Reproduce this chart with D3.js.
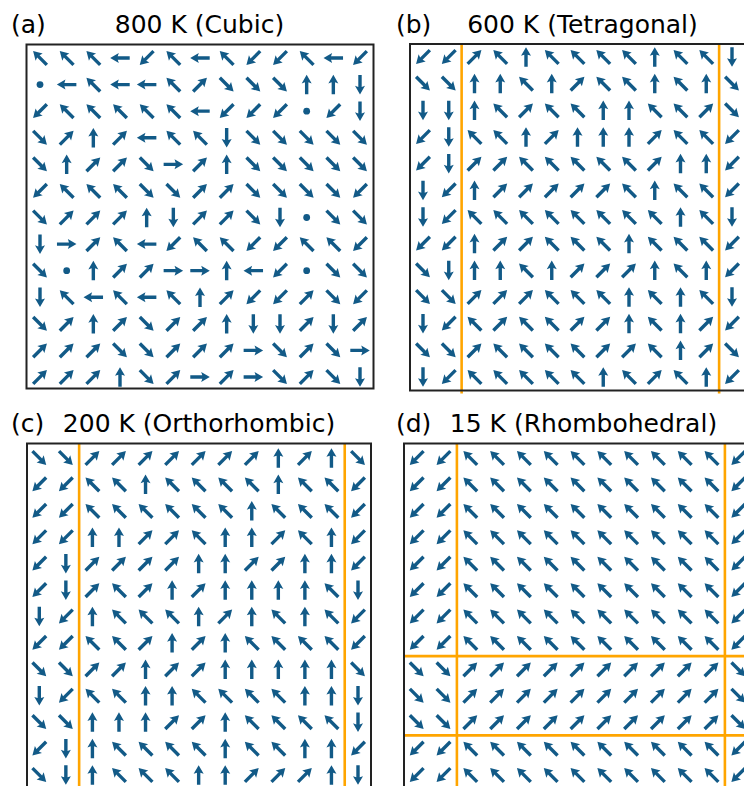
<!DOCTYPE html>
<html><head><meta charset="utf-8">
<script src="https://cdn.jsdelivr.net/npm/d3@7"></script>
<style>html,body{margin:0;padding:0;background:#fff}</style>
</head><body>
<svg id="chart" width="744" height="786"></svg>
<script>
// ---------------- data ----------------
const gridIndex = d3.range(13);
const panelLabels = ["(a)", "(b)", "(c)", "(d)"];
const panelTitles = ["800 K (Cubic)", "600 K (Tetragonal)", "200 K (Orthorhombic)", "15 K (Rhombohedral)"];

// polarization direction per cell (rows top->bottom), "0" = zero / dot
const dirA = [
  "NW NW NW W SW NW W NW SW SW NW W SW",
  "0 W NW W W NW NE SE SE SE N N S",
  "SW NW NW NW NW NW W SW SW SW 0 SW S",
  "SE NE N NE W NW NW S SE SE SE SE SE",
  "SE N NE NE SE E NE N SE SE SE SE SE",
  "SW NW NW NW SE SE NE NE SE SE SE SE SW",
  "SE NE NE NE N S NE NE SE S 0 SE SE",
  "S E NE NW W SW NW NW SW SW NW NW SW",
  "SE 0 N NE NE E E N W SW 0 SE SE",
  "S NW W NW W NW N NE SW SW NE SE SW",
  "SE NE N NE SE NE NE N S S NE S NE",
  "NE NE NE SE SE NE NE NE E SE NE SE E",
  "NE NE NE N SE NE E NE E SE NE SE S"
];
const dirB = [
  "SW SW NE NW N NW NW NW NW N NW NW S",
  "SE SE N N NW N NE NW NW N NW N SE",
  "S S N NW NE NW NW N N NW NW NE SE",
  "SW S NW NW N NE N N N NE NW NW SW",
  "SW S NE NE NW NW NW NW NW NE N N SW",
  "S SW N NE NE NE NE NE NW N NW NW SW",
  "S SW NW NW NW NW NW NW NW NW N NW S",
  "SW SW N NE NE NW NW NW N NW NW NW SW",
  "SE S N N NW N NE NE NE N NW N SW",
  "SE SE NE NE NE NW NW NW N NW N NW S",
  "S SW NW NE NW NW NE NE N NW N NE SW",
  "SE SE NE NW NW NW NW NE NE NW N NE SE",
  "S SW NW NW NW NW NW N NW NE NW N SW"
];
const dirC = [
  "SE SE NE NE NE NE NE NE NE N NE N SE",
  "SW SW NW NW N NW NW NW NW N NW NW SW",
  "SW SW NW NW NW NW NW NW N NW NW NW SW",
  "SW SW N N NE NE NW N N NE NW N SW",
  "SW S NE NE NE NE N N NE NE N N SW",
  "SW S NE NW NE N NE N N N N NW S",
  "S SW N NW NW NW N NE N NW N NW SW",
  "SW SW NW NW NE N NE N NW NW NW NW SW",
  "SE SE NE NE N NE NE N N N N N SE",
  "S SW NW NW N N NW NW NW NW N N S",
  "SE SE N N N NE NE N NW NW NW NW S",
  "SW S N NW NW NW NW N NW NW N N SW",
  "SE S N NW NW NW N N NE NE NE N S"
];
const dirD = [
  "SW SW NW NW NW NW NW NW NW NW NW NW SW",
  "SW SW NW NW NW NW NW NW NW NW NW NW SW",
  "SW SW NW NW NW NW NW NW NW NW NW NW SW",
  "SW SW NW NW NW NW NW NW NW NW NW NW SW",
  "SW SW NW NW NW NW NW NW NW NW NW NW SW",
  "SW SW NW NW NW NW NW NW NW NW NW NW SW",
  "SW SW NW NW NW NW NW NW NW NW NW NW SW",
  "SW SW NW NW NW NW NW NW NW NW NW NW SW",
  "SE SE NE NE NE NE NE NE NE NE NE NE SE",
  "SE SE NE NE NE NE NE NE NE NE NE NE SE",
  "SE SE NE NE NE NE NE NE NE NE NE NE SE",
  "SW SW NW NW NW NW NW NW NW NW NW NW SW",
  "SW SW NW NW NW NW NW NW NW NW NW NW SW"
];
// domain walls, as grid boundary positions (between cells)
const wallColsA = [], wallRowsA = [];
const wallColsB = [1.5, 11.5], wallRowsB = [];
const wallColsC = [1.5, 11.5], wallRowsC = [];
const wallColsD = [1.5, 11.5], wallRowsD = [7.5, 10.5];

// ---------------- layout ----------------
const layouts = [
  {cx: [40, 360],    cy: [58, 377],  box: [26.5, 44.5, 373.5, 388.5], tx: 199.5, ty: 33,  lx: 11},
  {cx: [423, 732],   cy: [57, 377],  box: [410, 44, 747, 390.5],     tx: 582.5, ty: 33,  lx: 396},
  {cx: [39.3, 358],  cy: [458, 775], box: [27, 443.5, 371, 790],     tx: 199,   ty: 432, lx: 11},
  {cx: [416.7, 738.3], cy: [458, 775], box: [404, 443.5, 752, 790],  tx: 583.5, ty: 432, lx: 396}
];
const panels = [
  {dirs: dirA, wc: wallColsA, wr: wallRowsA},
  {dirs: dirB, wc: wallColsB, wr: wallRowsB},
  {dirs: dirC, wc: wallColsC, wr: wallRowsC},
  {dirs: dirD, wc: wallColsD, wr: wallRowsD}
];
const angleOf = {E: 0, SE: 45, S: 90, SW: 135, W: 180, NW: -135, N: -90, NE: -45};
const arrowColor = "#125a87";
const wallColor = "#ffa500";
const arrowPath = "M-9.7,-1.7L2.3,-1.7L1.2,-5L9.8,0L1.2,5L2.3,1.7L-9.7,1.7Z";

const svg = d3.select("#chart");
svg.append("rect").attr("width", 744).attr("height", 786).attr("fill", "#fff");

panels.forEach((p, k) => {
  const L = layouts[k];
  const x = d3.scaleLinear().domain([0, 12]).range(L.cx);
  const y = d3.scaleLinear().domain([0, 12]).range(L.cy);
  const g = svg.append("g");
  const [bx0, by0, bx1, by1] = L.box;

  // walls
  g.selectAll("line.wc").data(p.wc).join("line")
    .attr("x1", d => x(d)).attr("x2", d => x(d))
    .attr("y1", by0).attr("y2", by1 + 3)
    .attr("stroke", wallColor).attr("stroke-width", 2.6);
  g.selectAll("line.wr").data(p.wr).join("line")
    .attr("y1", d => y(d)).attr("y2", d => y(d))
    .attr("x1", bx0).attr("x2", bx1)
    .attr("stroke", wallColor).attr("stroke-width", 2.6);

  // frame
  g.append("rect").attr("x", bx0).attr("y", by0)
    .attr("width", bx1 - bx0).attr("height", by1 - by0)
    .attr("fill", "none").attr("stroke", "#222").attr("stroke-width", 2);

  // cells
  const cells = [];
  p.dirs.forEach((row, r) => row.split(" ").forEach((d, c) => cells.push({r, c, d})));
  g.selectAll("path.arrow").data(cells.filter(d => d.d !== "0")).join("path")
    .attr("class", "arrow")
    .attr("d", arrowPath)
    .attr("fill", arrowColor)
    .attr("transform", d => `translate(${x(d.c)},${y(d.r)}) rotate(${angleOf[d.d]})`);
  g.selectAll("circle.dot").data(cells.filter(d => d.d === "0")).join("circle")
    .attr("class", "dot")
    .attr("cx", d => x(d.c)).attr("cy", d => y(d.r)).attr("r", 3.4)
    .attr("fill", arrowColor);

  // titles
  svg.append("text").attr("x", L.lx).attr("y", L.ty)
    .attr("font-family", "DejaVu Sans").attr("font-size", 25).attr("fill", "#000")
    .text(panelLabels[k]);
  svg.append("text").attr("x", L.tx).attr("y", L.ty).attr("text-anchor", "middle")
    .attr("font-family", "DejaVu Sans").attr("font-size", 25).attr("fill", "#000")
    .text(panelTitles[k]);
});
</script>
</body></html>
